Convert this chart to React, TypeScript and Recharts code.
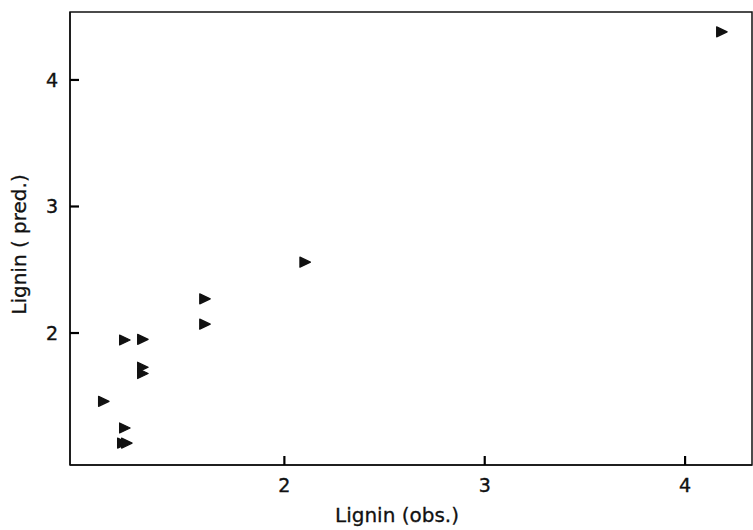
import { ReferenceArea, Scatter, ScatterChart, XAxis, YAxis } from "recharts";

const obs = [4.18, 2.1, 1.6, 1.6, 1.2, 1.29, 1.29, 1.29, 1.095, 1.2, 1.19, 1.21];
const pred = [4.38, 2.56, 2.27, 2.07, 1.945, 1.95, 1.73, 1.68, 1.46, 1.25, 1.13, 1.13];
const xTicks = [2, 3, 4];
const yTicks = [2, 3, 4];

const X_DOMAIN: [number, number] = [0.93, 4.334];
const Y_DOMAIN: [number, number] = [0.957, 4.537];

const points = obs.map((x, i) => ({ x, y: pred[i] }));

const FONT = "'DejaVu Sans', sans-serif";
const INK = "#111";
const TICK_LEN = 9;

function Triangle(props: any) {
	const { cx, cy } = props;
	if (cx == null || cy == null) return null;
	return (
		<path
			d={`M${cx - 4.5},${cy - 5} L${cx + 6},${cy} L${cx - 4.5},${cy + 5} Z`}
			fill={INK}
			stroke={INK}
			strokeWidth={1.2}
			strokeLinejoin="round"
		/>
	);
}

// ticks point into the plot, so draw mark + label ourselves
function renderXTick(props: any) {
	const x = Number(props.x);
	const y = Number(props.y);
	return (
		<g key={props.index}>
			<path d={`M${x},${y} V${y - TICK_LEN}`} stroke="#000" strokeWidth={2.2} fill="none" />
			<text
				x={x}
				y={y + 27}
				textAnchor="middle"
				fill={INK}
				stroke={INK}
				strokeWidth={0.4}
				fontSize={19}
				fontFamily={FONT}
			>
				{props.payload.value}
			</text>
		</g>
	);
}

function renderYTick(props: any) {
	const x = Number(props.x);
	const y = Number(props.y);
	return (
		<g key={props.index}>
			<path d={`M${x},${y} H${x + TICK_LEN}`} stroke="#000" strokeWidth={2.2} fill="none" />
			<text
				x={x - 12}
				y={y + 7}
				textAnchor="end"
				fill={INK}
				stroke={INK}
				strokeWidth={0.4}
				fontSize={19}
				fontFamily={FONT}
			>
				{props.payload.value}
			</text>
		</g>
	);
}

function YLabel(props: any) {
	const vb = props.viewBox;
	const cx = vb.x + 9;
	const cy = vb.y + vb.height / 2 + 6;
	return (
		<text
			x={cx}
			y={cy}
			transform={`rotate(-90 ${cx} ${cy})`}
			textAnchor="middle"
			dominantBaseline="central"
			fill={INK}
			stroke={INK}
			strokeWidth={0.3}
			fontSize={20}
			fontFamily={FONT}
		>
			Lignin ( pred.)
		</text>
	);
}

export default function App() {
	return (
		<div style={{ position: "absolute", left: 0, top: 0, background: "#fff" }}>
			<ScatterChart
				width={753}
				height={530}
				margin={{ top: 12, right: 1, bottom: 35, left: 10 }}
			>
				<ReferenceArea
					x1={X_DOMAIN[0]}
					x2={X_DOMAIN[1]}
					y1={Y_DOMAIN[0]}
					y2={Y_DOMAIN[1]}
					fill="none"
					fillOpacity={0}
					stroke={INK}
					strokeWidth={1.5}
				/>
				<XAxis
					type="number"
					dataKey="x"
					domain={X_DOMAIN}
					ticks={xTicks}
					allowDataOverflow
					height={30}
					stroke={INK}
					strokeWidth={1.5}
					tickLine={false}
					tickSize={0}
					tickMargin={0}
					tick={renderXTick}
					label={{
						value: "Lignin (obs.)",
						position: "insideBottom",
						offset: -27,
						dx: -14,
						fill: INK,
						stroke: INK,
						strokeWidth: 0.3,
						fontSize: 20,
						fontFamily: FONT,
					}}
				/>
				<YAxis
					type="number"
					dataKey="y"
					domain={Y_DOMAIN}
					ticks={yTicks}
					allowDataOverflow
					width={60}
					stroke={INK}
					strokeWidth={1.5}
					tickLine={false}
					tickSize={0}
					tickMargin={0}
					tick={renderYTick}
					label={{ content: YLabel }}
				/>
				<Scatter data={points} shape={<Triangle />} isAnimationActive={false} />
			</ScatterChart>
		</div>
	);
}
